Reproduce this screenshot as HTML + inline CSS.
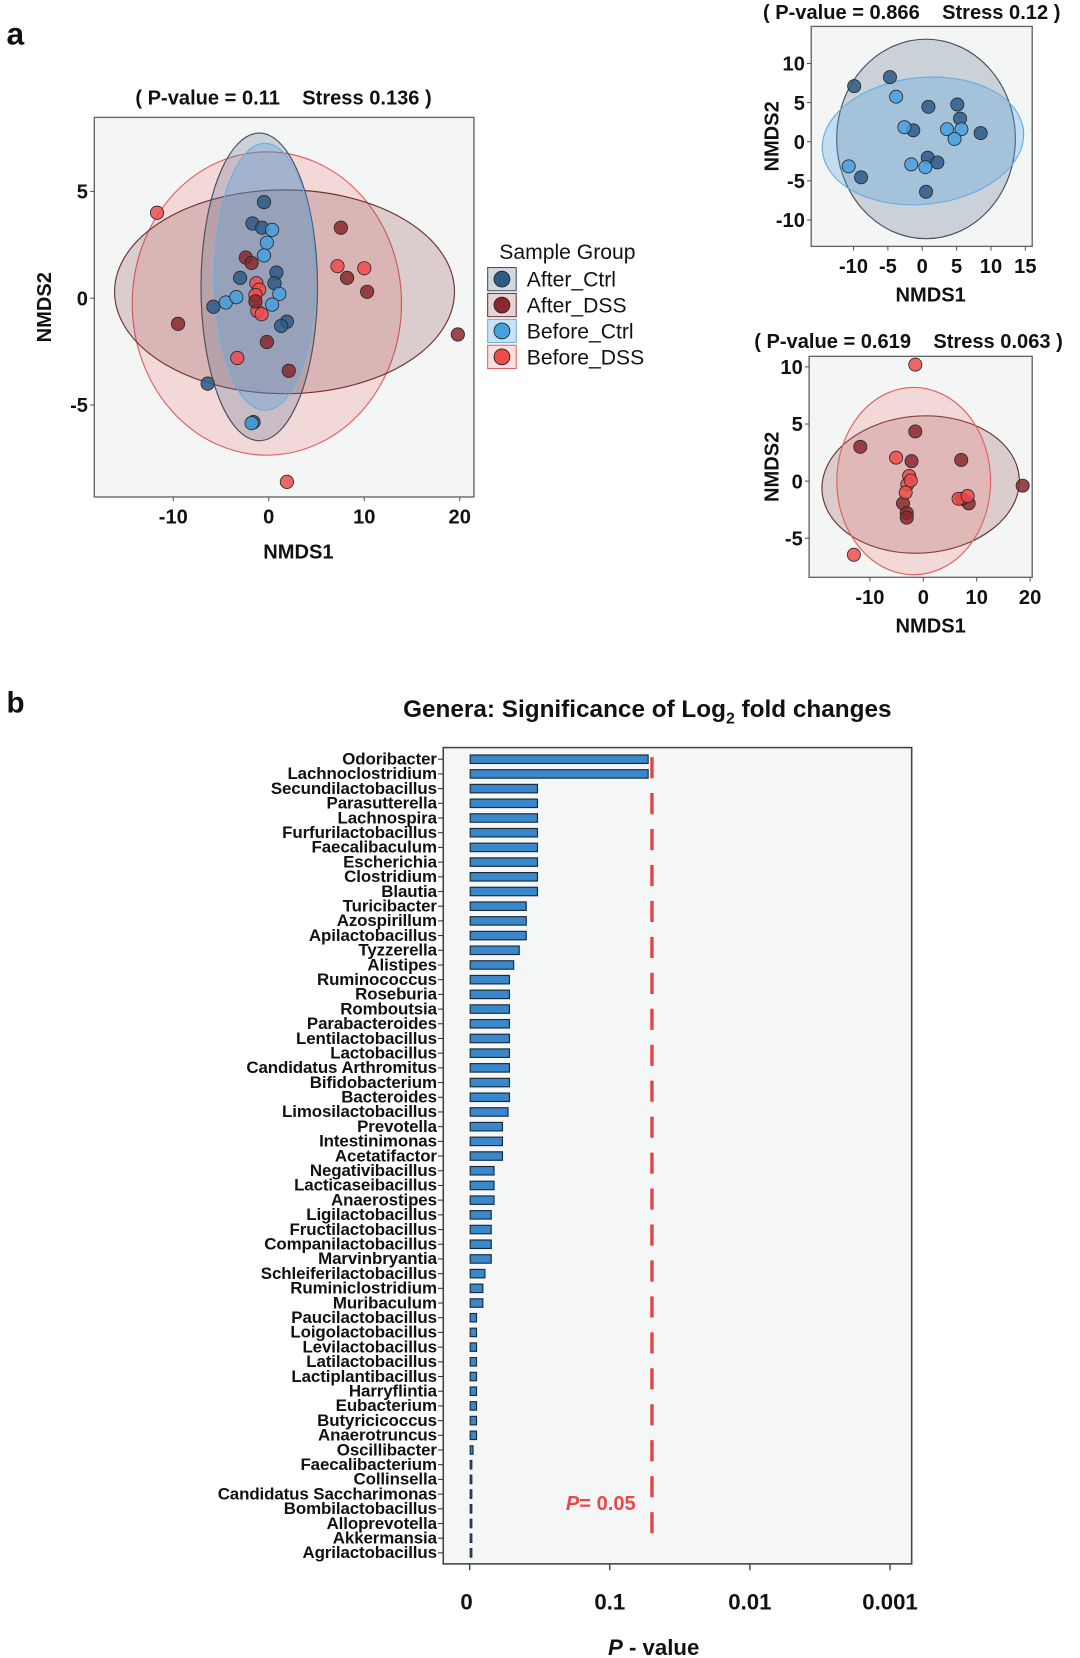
<!DOCTYPE html>
<html><head><meta charset="utf-8">
<style>
html,body{margin:0;padding:0;background:#fff;}
svg{display:block;font-family:"Liberation Sans",Arial,sans-serif;}
.t{font-weight:bold;fill:#111;}
.pre{white-space:pre;}
</style></head>
<body>
<svg id="fig" width="1080" height="1658" viewBox="0 0 1021 1568" xmlns="http://www.w3.org/2000/svg">
<rect width="1021" height="1568" fill="#fff"/>
<text class="t" x="6" y="42" font-size="30">a</text>
<text class="t" x="6" y="674" font-size="28">b</text>
</svg>
<script>
// ---------- NMDS data (main plot) ----------
const groups = ["After_Ctrl","After_DSS","Before_Ctrl","Before_DSS"];
const mainAfterCtrlX = [-0.5,-1.7,-0.7,0.8,-3,0.6,-5.8,1.9,1.3,-6.4,-1.6];
const mainAfterCtrlY = [4.5,3.5,3.3,1.2,0.95,0.7,-0.4,-1.1,-1.3,-4.0,-5.8];
const mainBeforeCtrlX = [0.35,-0.2,-0.5,-4.5,-3.4,1.1,0.35,-1.8];
const mainBeforeCtrlY = [3.2,2.6,2.0,-0.2,0.05,0.2,-0.3,-5.85];
const mainAfterDssX = [-2.4,-1.8,7.55,8.2,10.3,-9.5,-0.2,2.1,19.8,-1.4];
const mainAfterDssY = [1.9,1.65,3.3,0.95,0.3,-1.2,-2.05,-3.4,-1.7,-0.15];
const mainBeforeDssX = [-11.7,7.2,10,-3.3,1.9,-1.3,-1,-1.2,-0.75,-1.4];
const mainBeforeDssY = [4.0,1.5,1.4,-2.8,-8.6,0.7,0.4,-0.6,-0.75,0.15];
// ellipses: [cx, cy, rx, ry, angle]
const mainEllipses = [[-0.2,-0.25,14.1,7.1,0],[1.65,0.3,17.8,4.77,0],[-1,0.53,6.1,7.2,0],[-0.4,1.0,5.3,6.25,0]];
const mainEllipseGroups = ["Before_DSS","After_DSS","After_Ctrl","Before_Ctrl"];
const mainXTicks = [-10,0,10,20];
const mainYTicks = [5,0,-5];

// ---------- top-right (Ctrl) ----------
const ctrlAfterX = [-9.9,-4.7,0.9,5.1,5.5,-1.3,8.5,0.8,2.2,-8.9,0.55];
const ctrlAfterY = [7.1,8.25,4.45,4.75,2.95,1.45,1.1,-2.05,-2.65,-4.55,-6.4];
const ctrlBeforeX = [-3.8,-2.6,3.6,5.7,4.7,-10.7,-1.6,0.45];
const ctrlBeforeY = [5.75,1.85,1.6,1.6,0.35,-3.15,-2.9,-3.25];
const ctrlEllipses = [[0.55,0.35,13,12.75,0],[0.1,0.1,14.7,8.1,-6]];
const ctrlEllipseGroups = ["After_Ctrl","Before_Ctrl"];
const ctrlXTicks = [-10,-5,0,5,10,15];
const ctrlYTicks = [10,5,0,-5,-10];

// ---------- bottom-right (DSS) ----------
const dssAfterX = [-11.8,-1.5,-2.2,7.1,18.6,-3.8,-3.1,-3.1,8.5,7.2];
const dssAfterY = [3.0,4.35,1.75,1.85,-0.4,-1.95,-2.8,-3.2,-1.95,-1.55];
const dssBeforeX = [-1.5,-5.1,-2.65,-3,-3.3,-2.35,6.6,8.3,-13];
const dssBeforeY = [10.2,2.05,0.45,-0.3,-1.0,0.05,-1.55,-1.3,-6.45];
const dssEllipses = [[-0.5,-0.3,18.5,6,-4],[-1.8,0,14.4,8.2,0]];
const dssEllipseGroups = ["After_DSS","Before_DSS"];
const dssXTicks = [-10,0,10,20];
const dssYTicks = [10,5,0,-5];

// ---------- bar chart ----------
const genera = ["Odoribacter","Lachnoclostridium","Secundilactobacillus","Parasutterella","Lachnospira","Furfurilactobacillus","Faecalibaculum","Escherichia","Clostridium","Blautia","Turicibacter","Azospirillum","Apilactobacillus","Tyzzerella","Alistipes","Ruminococcus","Roseburia","Romboutsia","Parabacteroides","Lentilactobacillus","Lactobacillus","Candidatus Arthromitus","Bifidobacterium","Bacteroides","Limosilactobacillus","Prevotella","Intestinimonas","Acetatifactor","Negativibacillus","Lacticaseibacillus","Anaerostipes","Ligilactobacillus","Fructilactobacillus","Companilactobacillus","Marvinbryantia","Schleiferilactobacillus","Ruminiclostridium","Muribaculum","Paucilactobacillus","Loigolactobacillus","Levilactobacillus","Latilactobacillus","Lactiplantibacillus","Harryflintia","Eubacterium","Butyricicoccus","Anaerotruncus","Oscillibacter","Faecalibacterium","Collinsella","Candidatus Saccharimonas","Bombilactobacillus","Alloprevotella","Akkermansia","Agrilactobacillus"];
const negLogP = [1.27,1.27,0.48,0.48,0.48,0.48,0.48,0.48,0.48,0.48,0.40,0.40,0.40,0.35,0.31,0.28,0.28,0.28,0.28,0.28,0.28,0.28,0.28,0.28,0.27,0.23,0.23,0.23,0.17,0.17,0.17,0.15,0.15,0.15,0.15,0.105,0.09,0.09,0.045,0.045,0.045,0.045,0.045,0.045,0.045,0.045,0.045,0.02,0.01,0.01,0.01,0.01,0.01,0.01,0.01];
const barTickValues = [0,1,2,3];
const barTickLabels = ["0","0.1","0.01","0.001"];
const thresholdP = 0.05;

const NS = "http://www.w3.org/2000/svg";
const svg = document.getElementById("fig");
function mk(tag, attrs, parent){const e=document.createElementNS(NS,tag);for(const k in attrs)e.setAttribute(k,attrs[k]);(parent||svg).appendChild(e);return e;}
function txt(s, attrs, parent){const e=mk("text",attrs,parent);e.textContent=s;return e;}

const fillC = {After_Ctrl:"#2d5a86",After_DSS:"#8a282c",Before_Ctrl:"#45a0e0",Before_DSS:"#ee4b4b"};
const ellFill = {After_Ctrl:"rgba(95,115,145,0.28)",After_DSS:"rgba(130,60,60,0.22)",Before_Ctrl:"rgba(80,160,225,0.30)",Before_DSS:"rgba(240,110,110,0.22)"};
const ellStroke = {After_Ctrl:"#4a5060",After_DSS:"#6e3434",Before_Ctrl:"#6aaee0",Before_DSS:"#e06262"};

function nmds(cfg){
  const g = mk("g",{});
  
  
  const sx = v => cfg.x0 + v*cfg.kx;
  const sy = v => cfg.y0 - v*cfg.ky;
  const fr = mk("rect",{x:cfg.L,y:cfg.T,width:cfg.R-cfg.L,height:cfg.B-cfg.T,fill:"#f4f6f6",stroke:"#666","stroke-width":1.3},g);
  
  
  const clip = mk("clipPath",{id:cfg.name+"-clip"},g);
  mk("rect",{x:cfg.L,y:cfg.T,width:cfg.R-cfg.L,height:cfg.B-cfg.T},clip);
  const inner = mk("g",{"clip-path":"url(#"+cfg.name+"-clip)"},g);
  cfg.ells.forEach((e,i)=>{
    const gr = cfg.ellGroups[i];
    const el = mk("ellipse",{cx:sx(e[0]),cy:sy(e[1]),rx:e[2]*cfg.kx,ry:e[3]*cfg.ky,fill:ellFill[gr],stroke:ellStroke[gr],"stroke-width":1.1,transform:"rotate("+e[4]+" "+sx(e[0])+" "+sy(e[1])+")"},inner);
    
    
  });
  cfg.series.forEach(s=>{
    s.xs.forEach((x,i)=>{
      const c = mk("circle",{cx:sx(x),cy:sy(s.ys[i]),r:cfg.r,fill:fillC[s.group],"fill-opacity":0.85,stroke:"#2a2a2a","stroke-width":0.8},g);
      
      
    });
  });
  cfg.xt.forEach(v=>{
    mk("line",{x1:sx(v),x2:sx(v),y1:cfg.B,y2:cfg.B+4,stroke:"#555"},g);
    const t = txt(String(v),{x:sx(v),y:cfg.B+cfg.fs+6,"text-anchor":"middle","font-size":cfg.fs,class:"t"},g);
    
    
  });
  cfg.yt.forEach(v=>{
    mk("line",{x1:cfg.L-4,x2:cfg.L,y1:sy(v),y2:sy(v),stroke:"#555"},g);
    const t = txt(String(v),{x:cfg.L-6,y:sy(v)+cfg.fs*0.36,"text-anchor":"end","font-size":cfg.fs,class:"t"},g);
    
    
  });
  const xt = txt("NMDS1",{x:cfg.xlx,y:cfg.xly,"text-anchor":"middle","font-size":cfg.fs,class:"t"},g);
  
  
  const yt = txt("NMDS2",{x:0,y:0,"text-anchor":"middle","font-size":cfg.fs,class:"t",transform:"translate("+cfg.ylx+","+((cfg.T+cfg.B)/2)+") rotate(-90)"},g);
  
  
  const tt = txt(cfg.title,{x:cfg.tx,y:cfg.ty,"text-anchor":"middle","font-size":cfg.fs,class:"t pre"},g);
  
  
}

nmds({name:"nmds-all",L:89,R:448,T:111,B:470,x0:254,kx:9.03,y0:282,ky:20.2,r:6.3,fs:19,
  ells:mainEllipses,ellGroups:mainEllipseGroups,xt:mainXTicks,yt:mainYTicks,
  series:[{group:"Before_DSS",xs:mainBeforeDssX,ys:mainBeforeDssY},{group:"After_DSS",xs:mainAfterDssX,ys:mainAfterDssY},{group:"After_Ctrl",xs:mainAfterCtrlX,ys:mainAfterCtrlY},{group:"Before_Ctrl",xs:mainBeforeCtrlX,ys:mainBeforeCtrlY}],
  xlx:282,xly:528,ylx:48,title:"( P-value = 0.11    Stress 0.136 )",tx:268,ty:99});
nmds({name:"nmds-ctrl",L:767,R:976,T:25,B:233,x0:872,kx:6.5,y0:134,ky:7.4,r:6.2,fs:19,
  ells:ctrlEllipses,ellGroups:ctrlEllipseGroups,xt:ctrlXTicks,yt:ctrlYTicks,
  series:[{group:"After_Ctrl",xs:ctrlAfterX,ys:ctrlAfterY},{group:"Before_Ctrl",xs:ctrlBeforeX,ys:ctrlBeforeY}],
  xlx:880,xly:285,ylx:736,title:"( P-value = 0.866    Stress 0.12 )",tx:862,ty:18});
nmds({name:"nmds-dss",L:765,R:976,T:337,B:546,x0:873,kx:5.05,y0:455,ky:10.8,r:6.2,fs:19,
  ells:dssEllipses,ellGroups:dssEllipseGroups,xt:dssXTicks,yt:dssYTicks,
  series:[{group:"After_DSS",xs:dssAfterX,ys:dssAfterY},{group:"Before_DSS",xs:dssBeforeX,ys:dssBeforeY}],
  xlx:880,xly:598,ylx:736,title:"( P-value = 0.619    Stress 0.063 )",tx:859,ty:329});

// legend
const lg = mk("g",{});


txt("Sample Group",{x:472,y:245,"font-size":20,fill:"#111"},lg);
groups.forEach((gname,i)=>{
  const y = 264 + i*24.5;
  const e = mk("g",{},lg);
  
  
  mk("rect",{x:461,y:y-11,width:27,height:22,fill:ellFill[gname],stroke:ellStroke[gname],"stroke-width":1},e);
  mk("circle",{cx:474.5,cy:y,r:7.5,fill:fillC[gname],stroke:"#222","stroke-width":0.8},e);
  txt(gname,{x:498,y:y+7,"font-size":20,fill:"#111"},e);
});

// bar chart
const BL=419,BR=862,BT=707,BB=1479,bx0=444,bk=132.5,rowTop=718,rowStep=13.9;
const bx = v => bx0 + v*bk;
const by = i => rowTop + i*rowStep;
const bg = mk("g",{});


const bt = mk("text",{x:612,y:678,"text-anchor":"middle","font-size":23,class:"t"},bg);
bt.innerHTML = 'Genera: Significance of Log<tspan font-size="15" dy="6">2</tspan><tspan dy="-6"> fold changes</tspan>';


const bf = mk("rect",{x:BL,y:BT,width:BR-BL,height:BB-BT,fill:"#f5f6f6",stroke:"#444","stroke-width":1.5},bg);


genera.forEach((gn,i)=>{
  const y = by(i);
  mk("line",{x1:414,x2:BL,y1:y,y2:y,stroke:"#333"},bg);
  const t = txt(gn,{x:413,y:y+5,"text-anchor":"end","font-size":16,class:"t","letter-spacing":"-0.1"},bg);
  
  
  const w = bx(negLogP[i]) - bx0;
  const r = mk("rect",{x:bx0+0.5,y:y-4,width:Math.max(w,1.5),height:8,fill:"#3a88cc",stroke:"#1b2a3a","stroke-width":1.1},bg);
  
  
});
const thrX = bx(-Math.log10(thresholdP));
const dl = mk("line",{x1:thrX,x2:thrX,y1:716,y2:1462,stroke:"#e04545","stroke-width":3.2,"stroke-dasharray":"20 14"},bg);


const pl = mk("text",{x:535,y:1428,"font-size":19,fill:"#e8474c","font-weight":"bold"},bg);
pl.innerHTML = '<tspan font-style="italic">P</tspan>= 0.05';


barTickValues.forEach((v,i)=>{
  mk("line",{x1:bx(v),x2:bx(v),y1:BB,y2:BB+6,stroke:"#333","stroke-width":1.2},bg);
  const t = txt(barTickLabels[i],{x:bx(v)-(i===0?3:0),y:BB+43,"text-anchor":"middle","font-size":21,class:"t"},bg);
  
  
});
const xl = mk("text",{x:618,y:1565,"text-anchor":"middle","font-size":21,class:"t"},bg);
xl.innerHTML = '<tspan font-style="italic">P</tspan> - value';


</script>
</body></html>
